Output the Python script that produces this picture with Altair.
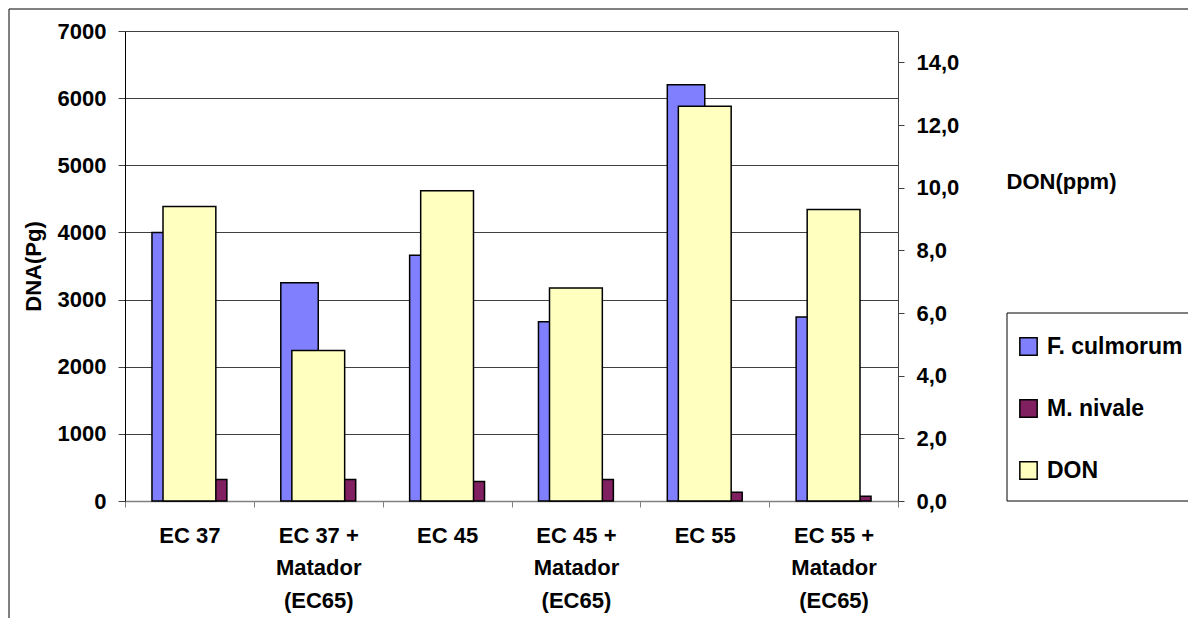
import altair as alt
import pandas as pd

# Treatments (x categories) and measured values
categories = [
    "EC 37",
    "EC 37 + Matador (EC65)",
    "EC 45",
    "EC 45 + Matador (EC65)",
    "EC 55",
    "EC 55 + Matador (EC65)",
]
f_culmorum = [4000, 3250, 3660, 2670, 6200, 2740]   # DNA (Pg)
m_nivale = [320, 320, 290, 320, 130, 70]            # DNA (Pg)
don_ppm = [9.4, 4.8, 9.9, 6.8, 12.6, 9.3]            # DON (ppm)

series_names = ["F. culmorum", "M. nivale", "DON"]
series_colors = ["#8080FF", "#802060", "#FFFFC0"]

dna_ticks = [0, 1000, 2000, 3000, 4000, 5000, 6000, 7000]
don_ticks = [0, 2, 4, 6, 8, 10, 12, 14]

FONT = "Liberation Sans"
W, H = 773, 470
PAD_L, PAD_T = 125, 31

dna = pd.DataFrame({
    "category": categories * 2,
    "series": [series_names[0]] * len(categories) + [series_names[1]] * len(categories),
    "value": f_culmorum + m_nivale,
})
don = pd.DataFrame({
    "category": categories,
    "series": [series_names[2]] * len(categories),
    "value": don_ppm,
})
one = pd.DataFrame({"k": [0]})

color = alt.Color(
    "series:N",
    scale=alt.Scale(domain=series_names, range=series_colors),
    legend=alt.Legend(
        orient="none",
        legendX=1017 - PAD_L,
        legendY=335 - PAD_T,
        title=None,
        padding=0,
        symbolType="square",
        symbolSize=300,
        symbolStrokeColor="black",
        symbolStrokeWidth=1.5,
        symbolOpacity=1,
        labelFont=FONT,
        labelFontSize=23,
        labelFontWeight="bold",
        labelColor="black",
        labelOffset=7,
        rowPadding=37,
        labelLimit=400,
    ),
)

x_enc = alt.X(
    "category:N",
    sort=categories,
    scale=alt.Scale(paddingInner=0, paddingOuter=0),
    axis=alt.Axis(
        title=None,
        labelAngle=0,
        tickBand="extent",
        tickSize=6,
        tickColor="#808080",
        domainColor="#808080",
        domainWidth=1.5,
        labelPadding=18,
        labelBaseline="top",
        labelFont=FONT,
        labelFontSize=22,
        labelFontWeight="bold",
        labelColor="black",
        labelLineHeight=32.5,
        labelOverlap=False,
        labelExpr="split(replace(replace(datum.label, ' + ', ' +|'), ' (', '|('), '|')",
    ),
)

# Outer chart frame
frame = alt.Chart(one).mark_rect(fill=None, stroke="black", strokeWidth=1).encode(
    x=alt.value(9 - PAD_L), x2=alt.value(1300 - PAD_L),
    y=alt.value(9 - PAD_T), y2=alt.value(700 - PAD_T),
)

# Legend frame
legend_box = alt.Chart(one).mark_rect(fill="white", stroke="black", strokeWidth=1).encode(
    x=alt.value(1007 - PAD_L), x2=alt.value(1300 - PAD_L),
    y=alt.value(313 - PAD_T), y2=alt.value(501 - PAD_T),
)

dna_bars = alt.Chart(dna).mark_bar(stroke="black", strokeWidth=1.5).encode(
    x=x_enc,
    xOffset=alt.XOffset(
        "series:N",
        sort=series_names[:2],
        scale=alt.Scale(paddingInner=0, paddingOuter=0.72),
    ),
    y=alt.Y(
        "value:Q",
        scale=alt.Scale(domain=[0, 7000]),
        axis=alt.Axis(
            values=dna_ticks,
            format="d",
            title="DNA(Pg)",
            titleFont=FONT,
            titleFontSize=22,
            titleFontWeight="bold",
            titleColor="black",
            titleAngle=-90,
            titleAlign="center",
            titleBaseline="middle",
            titleX=-92,
            titleY=H / 2,
            labelFont=FONT,
            labelFontSize=22,
            labelFontWeight="bold",
            labelColor="black",
            labelPadding=12,
            tickSize=7,
            tickColor="#404040",
            domainColor="black",
            grid=True,
            gridColor="#404040",
            gridWidth=1,
        ),
    ),
    color=color,
)

don_bars = alt.Chart(don).mark_bar(
    stroke="black", strokeWidth=1.5, width=alt.RelativeBandSize(0.41)
).encode(
    x=x_enc,
    y=alt.Y(
        "value:Q",
        scale=alt.Scale(domain=[0, 15]),
        axis=alt.Axis(
            orient="right",
            values=don_ticks,
            labelExpr="replace(format(datum.value, '.1f'), '.', ',')",
            title="DON(ppm)",
            titleFont=FONT,
            titleFontSize=22,
            titleFontWeight="bold",
            titleColor="black",
            titleAngle=0,
            titleAlign="left",
            titleBaseline="middle",
            titleX=108,
            titleY=150,
            labelFont=FONT,
            labelFontSize=22,
            labelFontWeight="bold",
            labelColor="black",
            labelPadding=12,
            tickSize=6,
            tickColor="#404040",
            domainColor="#404040",
            grid=False,
        ),
    ),
    color=color,
)

chart = (
    alt.layer(frame, legend_box, dna_bars, don_bars)
    .resolve_scale(y="independent")
    .properties(
        width=W,
        height=H,
        autosize=alt.AutoSizeParams(type="none"),
        padding={"left": PAD_L, "top": PAD_T, "right": 1188 - PAD_L - W, "bottom": 618 - PAD_T - H},
        background="white",
    )
    .configure_view(stroke=None)
)

chart.save("out.html", embed_options={"renderer": "svg", "actions": False})
